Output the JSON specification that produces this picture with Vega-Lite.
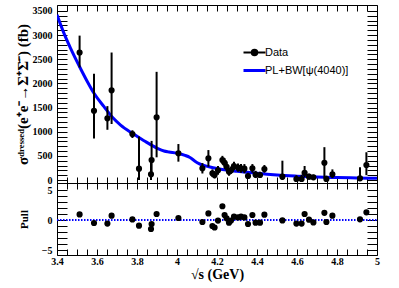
{
  "$schema": "https://vega.github.io/schema/vega-lite/v6.json",
  "padding": {"left": 14, "top": 4, "right": 5, "bottom": 4},
  "background": "white",
  "spacing": 0,
  "bounds": "flush",
  "config": {
    "view": {"stroke": "black", "strokeWidth": 1},
    "axis": {"labelFont": "Liberation Serif", "labelFontWeight": "bold", "labelFontSize": 10, "labelColor": "black",
      "titleFont": "Liberation Serif", "titleFontWeight": "bold", "titleColor": "black",
      "domain": false, "tickColor": "black", "tickWidth": 1, "grid": false,
      "labelFlush": false, "labelOverlap": false}
  },
  "datasets": {
    "pts": [
      {"E": 3.513, "xs": 2640, "low": 2330, "high": 2990, "pull": 0.94},
      {"E": 3.585, "xs": 1435, "low": 860, "high": 2200, "pull": -0.5},
      {"E": 3.652, "xs": 1277, "low": 1040, "high": 1530, "pull": -0.6},
      {"E": 3.673, "xs": 1857, "low": 1160, "high": 2640, "pull": 0.72},
      {"E": 3.777, "xs": 952, "low": 870, "high": 1030, "pull": 0.1},
      {"E": 3.81, "xs": 234, "low": 0, "high": 900, "pull": -0.94},
      {"E": 3.87, "xs": 118, "low": 0, "high": 350, "pull": -1.5},
      {"E": 3.873, "xs": 414, "low": 150, "high": 810, "pull": -0.67},
      {"E": 3.898, "xs": 1298, "low": 470, "high": 2240, "pull": 1.0},
      {"E": 4.007, "xs": 553, "low": 380, "high": 745, "pull": 0.33},
      {"E": 4.127, "xs": 242, "low": 135, "high": 350, "pull": -0.33},
      {"E": 4.157, "xs": 449, "low": 275, "high": 620, "pull": 1.1},
      {"E": 4.177, "xs": 139, "low": 60, "high": 220, "pull": -1.0},
      {"E": 4.188, "xs": 104, "low": 30, "high": 180, "pull": -1.25},
      {"E": 4.205, "xs": 200, "low": 110, "high": 290, "pull": -0.1},
      {"E": 4.227, "xs": 414, "low": 330, "high": 500, "pull": 2.3},
      {"E": 4.238, "xs": 358, "low": 260, "high": 450, "pull": 0.83},
      {"E": 4.248, "xs": 275, "low": 180, "high": 370, "pull": 0.28},
      {"E": 4.26, "xs": 172, "low": 90, "high": 250, "pull": -0.44},
      {"E": 4.27, "xs": 200, "low": 130, "high": 280, "pull": -0.1},
      {"E": 4.285, "xs": 290, "low": 200, "high": 380, "pull": 0.56},
      {"E": 4.305, "xs": 255, "low": 170, "high": 340, "pull": 0.44},
      {"E": 4.32, "xs": 240, "low": 150, "high": 330, "pull": 0.56},
      {"E": 4.337, "xs": 235, "low": 140, "high": 330, "pull": 0.44},
      {"E": 4.355, "xs": 83, "low": 20, "high": 150, "pull": -0.67},
      {"E": 4.377, "xs": 242, "low": 150, "high": 330, "pull": 0.83},
      {"E": 4.393, "xs": 110, "low": 40, "high": 190, "pull": -0.44},
      {"E": 4.415, "xs": 104, "low": 40, "high": 170, "pull": -0.44},
      {"E": 4.437, "xs": 228, "low": 150, "high": 310, "pull": 0.89},
      {"E": 4.527, "xs": 69, "low": 0, "high": 400, "pull": -0.06},
      {"E": 4.597, "xs": 21, "low": 0, "high": 100, "pull": -0.6},
      {"E": 4.623, "xs": 21, "low": 0, "high": 110, "pull": -0.6},
      {"E": 4.638, "xs": 151, "low": 60, "high": 290, "pull": 1.0},
      {"E": 4.66, "xs": 69, "low": 10, "high": 130, "pull": 0.06},
      {"E": 4.682, "xs": 56, "low": 10, "high": 110, "pull": -0.4},
      {"E": 4.737, "xs": 358, "low": 35, "high": 680, "pull": 1.2},
      {"E": 4.747, "xs": 21, "low": 0, "high": 90, "pull": -0.33},
      {"E": 4.777, "xs": 118, "low": 40, "high": 220, "pull": 0.72},
      {"E": 4.915, "xs": 35, "low": 0, "high": 265, "pull": 0.11},
      {"E": 4.947, "xs": 310, "low": 100, "high": 575, "pull": 1.28}
    ],
    "fit": [
      {"E": 3.4, "xs": 3420}, {"E": 3.435, "xs": 3036}, {"E": 3.468, "xs": 2726}, {"E": 3.513, "xs": 2346},
      {"E": 3.552, "xs": 2035}, {"E": 3.585, "xs": 1795}, {"E": 3.635, "xs": 1518}, {"E": 3.677, "xs": 1298},
      {"E": 3.718, "xs": 1138}, {"E": 3.777, "xs": 966}, {"E": 3.835, "xs": 814}, {"E": 3.902, "xs": 656},
      {"E": 3.935, "xs": 600}, {"E": 3.96, "xs": 580}, {"E": 4.0, "xs": 555}, {"E": 4.04, "xs": 510},
      {"E": 4.065, "xs": 465}, {"E": 4.09, "xs": 390}, {"E": 4.11, "xs": 340}, {"E": 4.13, "xs": 305},
      {"E": 4.16, "xs": 275}, {"E": 4.2, "xs": 240}, {"E": 4.25, "xs": 205}, {"E": 4.3, "xs": 182},
      {"E": 4.35, "xs": 160}, {"E": 4.4, "xs": 140}, {"E": 4.45, "xs": 120}, {"E": 4.5, "xs": 103},
      {"E": 4.6, "xs": 80}, {"E": 4.7, "xs": 63}, {"E": 4.8, "xs": 51}, {"E": 4.9, "xs": 42}, {"E": 5.0, "xs": 35}
    ]
  },
  "vconcat": [
    {
      "width": 320,
      "height": 178,
      "layer": [
        {
          "data": {"name": "fit"},
          "mark": {"type": "line", "strokeWidth": 3, "interpolate": "monotone", "clip": true},
          "encoding": {
            "x": {"field": "E", "type": "quantitative", "scale": {"domain": [3.4, 5.0], "nice": false, "zero": false}, "axis": null},
            "y": {"field": "xs", "type": "quantitative", "scale": {"domain": [-62, 3624], "nice": false, "zero": false}, "axis": null},
            "color": {"datum": "PL+BW[ψ(4040)]", "type": "nominal",
              "scale": {"domain": ["Data", "PL+BW[ψ(4040)]"], "range": ["black", "#0000ff"]},
              "legend": {"title": null, "orient": "none", "legendX": 192, "legendY": 42, "direction": "vertical",
                "symbolSize": 484, "labelFont": "Liberation Sans", "labelFontSize": 11, "labelColor": "black",
                "labelOffset": 5, "rowPadding": 4,
                "encode": {"symbols": {"update": {
                  "shape": {"signal": "datum.value === 'Data' ? 'M-1,0L1,0M0.25,0A0.25,0.25,0,1,1,-0.25,0A0.25,0.25,0,1,1,0.25,0Z' : 'M-1,0L1,0'"},
                  "fill": {"signal": "datum.value === 'Data' ? 'black' : 'transparent'"},
                  "stroke": {"signal": "datum.value === 'Data' ? 'black' : '#0000ff'"},
                  "strokeWidth": {"signal": "datum.value === 'Data' ? 2 : 3"},
                  "opacity": {"value": 1}
                }}}
              }}
          }
        },
        {
          "data": {"name": "pts"},
          "mark": {"type": "rule", "color": "black", "strokeWidth": 2, "clip": true},
          "encoding": {
            "x": {"field": "E", "type": "quantitative",
              "axis": {"orient": "bottom", "labels": false, "title": null, "tickSize": -6,
                "values": [3.4,3.45,3.5,3.55,3.6,3.65,3.7,3.75,3.8,3.85,3.9,3.95,4.0,4.05,4.1,4.15,4.2,4.25,4.3,4.35,4.4,4.45,4.5,4.55,4.6,4.65,4.7,4.75,4.8,4.85,4.9,4.95,5.0],
                "encode": {"ticks": {"update": {"y2": {"signal": "abs(datum.value*5-round(datum.value*5))<0.01 ? -6 : -3"}}}}}},
            "y": {"field": "low", "type": "quantitative",
              "axis": {"orient": "left", "title": "σᵈʳᵉˢˢᵉᵈ(e⁺e⁻→Σ⁺Σ̄⁻) (fb)", "titleFontSize": 15, "titlePadding": 2,
                "tickSize": -10, "labelPadding": 15,
                "values": [0,100,200,300,400,500,600,700,800,900,1000,1100,1200,1300,1400,1500,1600,1700,1800,1900,2000,2100,2200,2300,2400,2500,2600,2700,2800,2900,3000,3100,3200,3300,3400,3500],
                "labelExpr": "datum.value % 500 === 0 ? format(datum.value, 'd') : ''",
                "encode": {"ticks": {"update": {"x2": {"signal": "datum.value % 500 === 0 ? 10 : 5"}}}}}},
            "y2": {"field": "high"}
          }
        },
        {
          "data": {"name": "pts"},
          "mark": {"type": "point", "filled": true, "size": 38, "opacity": 1, "clip": true},
          "encoding": {
            "x": {"field": "E", "type": "quantitative",
              "axis": {"orient": "top", "labels": false, "title": null, "tickSize": -6,
                "values": [3.4,3.45,3.5,3.55,3.6,3.65,3.7,3.75,3.8,3.85,3.9,3.95,4.0,4.05,4.1,4.15,4.2,4.25,4.3,4.35,4.4,4.45,4.5,4.55,4.6,4.65,4.7,4.75,4.8,4.85,4.9,4.95,5.0],
                "encode": {"ticks": {"update": {"y2": {"signal": "abs(datum.value*5-round(datum.value*5))<0.01 ? 6 : 3"}}}}}},
            "y": {"field": "xs", "type": "quantitative",
              "axis": {"orient": "right", "labels": false, "title": null, "tickSize": -10,
                "values": [0,100,200,300,400,500,600,700,800,900,1000,1100,1200,1300,1400,1500,1600,1700,1800,1900,2000,2100,2200,2300,2400,2500,2600,2700,2800,2900,3000,3100,3200,3300,3400,3500],
                "encode": {"ticks": {"update": {"x2": {"signal": "datum.value % 500 === 0 ? -10 : -5"}}}}}},
            "color": {"datum": "Data", "type": "nominal"}
          }
        }
      ],
      "resolve": {"axis": {"x": "independent", "y": "independent"}}
    },
    {
      "width": 320,
      "height": 72,
      "layer": [
        {
          "data": {"values": [{}]},
          "mark": {"type": "rule", "color": "#0000ff", "strokeWidth": 2, "strokeDash": [1.5, 1.5]},
          "encoding": {
            "x": {"datum": 3.4, "type": "quantitative", "scale": {"domain": [3.4, 5.0], "nice": false, "zero": false},
              "axis": {"orient": "top", "labels": false, "title": null, "tickSize": -6,
                "values": [3.4,3.45,3.5,3.55,3.6,3.65,3.7,3.75,3.8,3.85,3.9,3.95,4.0,4.05,4.1,4.15,4.2,4.25,4.3,4.35,4.4,4.45,4.5,4.55,4.6,4.65,4.7,4.75,4.8,4.85,4.9,4.95,5.0],
                "encode": {"ticks": {"update": {"y2": {"signal": "abs(datum.value*5-round(datum.value*5))<0.01 ? 6 : 3"}}}}}},
            "x2": {"datum": 5.0},
            "y": {"datum": 0, "type": "quantitative", "scale": {"domain": [-5.83, 6.17], "nice": false, "zero": false},
              "axis": {"orient": "right", "labels": false, "title": null, "tickSize": -10,
                "values": [-5,-4,-3,-2,-1,0,1,2,3,4,5],
                "encode": {"ticks": {"update": {"x2": {"signal": "datum.value % 5 === 0 ? -10 : -5"}}}}}}
          }
        },
        {
          "data": {"name": "pts"},
          "mark": {"type": "point", "filled": true, "size": 38, "opacity": 1, "color": "black"},
          "encoding": {
            "x": {"field": "E", "type": "quantitative",
              "axis": {"orient": "bottom", "title": "√s (GeV)", "titleFontSize": 14, "titlePadding": 1,
                "tickSize": -6, "labelPadding": 7,
                "values": [3.4,3.45,3.5,3.55,3.6,3.65,3.7,3.75,3.8,3.85,3.9,3.95,4.0,4.05,4.1,4.15,4.2,4.25,4.3,4.35,4.4,4.45,4.5,4.55,4.6,4.65,4.7,4.75,4.8,4.85,4.9,4.95,5.0],
                "labelExpr": "abs(datum.value*5-round(datum.value*5))<0.01 ? format(datum.value, '~g') : ''",
                "encode": {"ticks": {"update": {"y2": {"signal": "abs(datum.value*5-round(datum.value*5))<0.01 ? -6 : -3"}}}}}},
            "y": {"field": "pull", "type": "quantitative",
              "axis": {"orient": "left", "title": "Pull", "titleFontSize": 11, "titlePadding": 12,
                "tickSize": -10, "labelPadding": 15,
                "values": [-5,-4,-3,-2,-1,0,1,2,3,4,5],
                "labelExpr": "datum.value % 5 === 0 ? datum.label : ''",
                "encode": {"ticks": {"update": {"x2": {"signal": "datum.value % 5 === 0 ? 10 : 5"}}}}}}
          }
        }
      ],
      "resolve": {"axis": {"x": "independent", "y": "independent"}}
    }
  ]
}
